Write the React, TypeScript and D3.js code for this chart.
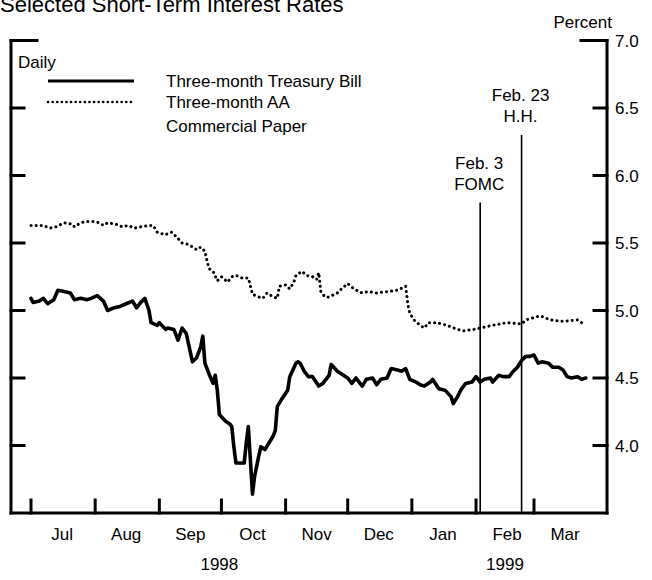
import React from "react";
import * as d3 from "d3";

const tbDates = [
  "1998-07-01","1998-07-02","1998-07-05","1998-07-07","1998-07-09","1998-07-12","1998-07-14","1998-07-17","1998-07-20","1998-07-22","1998-07-25","1998-07-28","1998-07-30",
  "1998-08-02","1998-08-05","1998-08-07","1998-08-10","1998-08-13","1998-08-16","1998-08-19","1998-08-21","1998-08-23","1998-08-25","1998-08-27","1998-08-28","1998-08-31",
  "1998-09-01","1998-09-04","1998-09-05","1998-09-08","1998-09-10","1998-09-12","1998-09-14","1998-09-17","1998-09-19","1998-09-21","1998-09-22","1998-09-23","1998-09-25","1998-09-27","1998-09-28","1998-09-29","1998-09-30",
  "1998-10-03","1998-10-05","1998-10-06","1998-10-07","1998-10-08","1998-10-10","1998-10-12","1998-10-13","1998-10-14","1998-10-15","1998-10-16","1998-10-17","1998-10-19","1998-10-20","1998-10-22","1998-10-24","1998-10-26","1998-10-27","1998-10-28","1998-10-30",
  "1998-11-02","1998-11-03","1998-11-06","1998-11-07","1998-11-08","1998-11-10","1998-11-12","1998-11-14","1998-11-17","1998-11-19","1998-11-22","1998-11-23","1998-11-26","1998-11-28",
  "1998-12-01","1998-12-03","1998-12-05","1998-12-08","1998-12-10","1998-12-13","1998-12-15","1998-12-17","1998-12-20","1998-12-22","1998-12-25","1998-12-27","1998-12-29","1998-12-31",
  "1999-01-03","1999-01-05","1999-01-07","1999-01-10","1999-01-11","1999-01-14","1999-01-17","1999-01-20","1999-01-21","1999-01-23","1999-01-25","1999-01-27","1999-01-30",
  "1999-02-01","1999-02-03","1999-02-05","1999-02-08","1999-02-09","1999-02-12","1999-02-14","1999-02-17","1999-02-19","1999-02-21","1999-02-23","1999-02-25","1999-02-27",
  "1999-03-01","1999-03-03","1999-03-05","1999-03-08","1999-03-10","1999-03-13","1999-03-15","1999-03-17","1999-03-19","1999-03-22","1999-03-24","1999-03-26"
];
const tbRates = [
  5.09,5.06,5.07,5.09,5.05,5.08,5.15,5.14,5.13,5.08,5.09,5.08,5.09,
  5.11,5.07,5.00,5.02,5.03,5.05,5.07,5.02,5.06,5.09,5.00,4.91,4.89,
  4.91,4.86,4.87,4.86,4.78,4.87,4.83,4.62,4.65,4.73,4.81,4.61,4.53,4.46,4.52,4.41,4.23,
  4.18,4.16,4.14,3.99,3.87,3.87,3.87,4.02,4.14,3.89,3.64,3.77,3.92,3.99,3.97,4.02,4.07,4.11,4.29,4.34,
  4.41,4.51,4.61,4.62,4.61,4.55,4.51,4.51,4.44,4.46,4.52,4.60,4.55,4.53,
  4.50,4.46,4.50,4.44,4.49,4.50,4.45,4.49,4.50,4.57,4.56,4.55,4.57,4.49,
  4.47,4.45,4.44,4.47,4.49,4.42,4.41,4.36,4.31,4.36,4.42,4.46,4.47,
  4.51,4.47,4.49,4.50,4.47,4.52,4.51,4.51,4.55,4.58,4.63,4.66,4.66,
  4.67,4.61,4.62,4.61,4.58,4.58,4.56,4.51,4.50,4.51,4.49,4.50
];

const cpDates = [
  "1998-07-01","1998-07-04","1998-07-07","1998-07-10","1998-07-13","1998-07-17","1998-07-21","1998-07-22","1998-07-25","1998-07-28","1998-07-31",
  "1998-08-03","1998-08-05","1998-08-07","1998-08-11","1998-08-14","1998-08-17","1998-08-20","1998-08-23","1998-08-27","1998-08-29","1998-08-31",
  "1998-09-04","1998-09-05","1998-09-07","1998-09-09","1998-09-12","1998-09-15","1998-09-17","1998-09-19","1998-09-21","1998-09-23","1998-09-24","1998-09-25","1998-09-27","1998-09-29",
  "1998-10-01","1998-10-04","1998-10-06","1998-10-08","1998-10-11","1998-10-14","1998-10-15","1998-10-16","1998-10-19","1998-10-21","1998-10-23","1998-10-25","1998-10-28","1998-10-29",
  "1998-11-01","1998-11-03","1998-11-05","1998-11-06","1998-11-09","1998-11-11","1998-11-14","1998-11-16","1998-11-17","1998-11-18","1998-11-20","1998-11-22","1998-11-26","1998-11-28",
  "1998-12-01","1998-12-04","1998-12-08","1998-12-11","1998-12-15","1998-12-20","1998-12-25","1998-12-29","1998-12-30","1998-12-31",
  "1999-01-02","1999-01-05","1999-01-07","1999-01-09","1999-01-13","1999-01-18","1999-01-23","1999-01-26","1999-01-31",
  "1999-02-03","1999-02-09","1999-02-16","1999-02-23","1999-02-25",
  "1999-03-04","1999-03-09","1999-03-15","1999-03-22","1999-03-24"
];
const cpRates = [
  5.63,5.63,5.63,5.61,5.62,5.65,5.64,5.62,5.65,5.66,5.66,
  5.65,5.63,5.65,5.64,5.62,5.63,5.61,5.62,5.63,5.63,5.58,
  5.56,5.57,5.58,5.55,5.50,5.49,5.47,5.45,5.47,5.44,5.37,5.31,5.29,5.22,
  5.25,5.21,5.25,5.26,5.24,5.24,5.18,5.12,5.10,5.09,5.13,5.11,5.09,5.18,
  5.19,5.16,5.21,5.26,5.29,5.26,5.25,5.23,5.28,5.14,5.10,5.10,5.13,5.16,
  5.20,5.16,5.13,5.14,5.13,5.14,5.15,5.18,5.05,4.98,
  4.93,4.89,4.87,4.91,4.91,4.89,4.86,4.85,4.86,
  4.87,4.89,4.91,4.90,4.93,
  4.96,4.93,4.92,4.93,4.91
];

const yTicks = [4.0, 4.5, 5.0, 5.5, 6.0, 6.5, 7.0];
const monthLabels = ["Jul", "Aug", "Sep", "Oct", "Nov", "Dec", "Jan", "Feb", "Mar"];
const yearLabels = [
  { label: "1998", date: "1998-09-30" },
  { label: "1999", date: "1999-02-15" },
];
const events = [
  { date: "1999-02-03", lines: ["Feb. 3", "FOMC"], top: 5.8 },
  { date: "1999-02-23", lines: ["Feb. 23", "H.H."], top: 6.3 },
];
const legendItems = [
  { lines: ["Three-month Treasury Bill"], dotted: false },
  { lines: ["Three-month AA", "Commercial Paper"], dotted: true },
];

const parse = d3.timeParse("%Y-%m-%d");
const FONT = "'Liberation Sans', Arial, Helvetica, sans-serif";

export default function App() {
  const W = 652, H = 580;
  const left = 11, right = 607, top = 40.5, bottom = 513;
  const x = d3.scaleTime()
    .domain([parse("1998-07-01")!, parse("1999-03-01")!])
    .range([31, 534]);
  const y = d3.scaleLinear().domain([3.5, 7.0]).range([bottom, top]);

  const tb = tbDates.map((d, i) => ({ d: parse(d)!, v: tbRates[i] }));
  const cp = cpDates.map((d, i) => ({ d: parse(d)!, v: cpRates[i] }));
  const line = d3.line<{ d: Date; v: number }>().x(p => x(p.d)).y(p => y(p.v));

  const monthStarts = d3.timeMonth.range(parse("1998-07-01")!, parse("1999-03-02")!);
  const fs = 17;

  return (
    <svg width={W} height={H} viewBox={`0 0 ${W} ${H}`}
      style={{ position: "absolute", left: 0, top: 0, background: "#fff" }}
      fontFamily={FONT}>
      <rect x={0} y={0} width={W} height={H} fill="#fff" />
      <text x={0} y={12} fontSize={22} fill="#000">Selected Short-Term Interest Rates</text>
      <text x={612} y={28} fontSize={fs} textAnchor="end" fill="#000">Percent</text>

      {/* frame */}
      <g stroke="#000" strokeWidth={3} fill="none" strokeLinecap="square">
        <line x1={left} y1={top} x2={left} y2={bottom} />
        <line x1={right} y1={top} x2={right} y2={bottom} />
        <line x1={left} y1={bottom} x2={right} y2={bottom} />
        {yTicks.map(t => {
          const len = t === 7.0 ? 26 : 13;
          return (
            <g key={t}>
              <line x1={left} x2={left + len} y1={y(t)} y2={y(t)} />
              <line x1={right - len} x2={right} y1={y(t)} y2={y(t)} />
            </g>
          );
        })}
        {monthStarts.map((m, i) => (
          <line key={i} x1={x(m)} x2={x(m)} y1={bottom} y2={bottom - 13} />
        ))}
      </g>

      {yTicks.map(t => (
        <text key={t} x={615} y={y(t) + 6} fontSize={fs} fill="#000">{t.toFixed(1)}</text>
      ))}
      {monthStarts.map((m, i) => (
        <text key={i} x={x(d3.timeDay.offset(m, 15))} y={540} fontSize={fs} textAnchor="middle" fill="#000">
          {monthLabels[i]}
        </text>
      ))}
      {yearLabels.map(yl => (
        <text key={yl.label} x={x(parse(yl.date)!)} y={570} fontSize={fs} textAnchor="middle" fill="#000">{yl.label}</text>
      ))}

      {/* events */}
      {events.map(ev => {
        const ex = x(parse(ev.date)!);
        const ty = y(ev.top);
        return (
          <g key={ev.date}>
            <line x1={ex} x2={ex} y1={ty} y2={bottom} stroke="#000" strokeWidth={1.6} />
            {ev.lines.map((l, i) => (
              <text key={i} x={ex - 1} y={ty - 34 + i * 21} fontSize={fs} textAnchor="middle" fill="#000">{l}</text>
            ))}
          </g>
        );
      })}

      {/* series */}
      <path d={line(cp) || ""} fill="none" stroke="#000" strokeWidth={3} strokeDasharray="0.1 5" strokeLinecap="round" />
      <path d={line(tb) || ""} fill="none" stroke="#000" strokeWidth={3.6} strokeLinejoin="round" strokeLinecap="round" />

      {/* legend */}
      <text x={18} y={68} fontSize={fs} fill="#000">Daily</text>
      {legendItems.map((it, i) => {
        const ly = 81 + i * 21;
        return (
          <g key={i}>
            {it.dotted ? (
              <line x1={48} x2={134} y1={ly} y2={ly} stroke="#000" strokeWidth={2.6} strokeDasharray="0.1 4.5" strokeLinecap="round" />
            ) : (
              <line x1={48} x2={134} y1={ly} y2={ly} stroke="#000" strokeWidth={3.2} />
            )}
            {it.lines.map((l, j) => (
              <text key={j} x={166} y={ly + 6 + j * 24} fontSize={fs} fill="#000">{l}</text>
            ))}
          </g>
        );
      })}
    </svg>
  );
}
